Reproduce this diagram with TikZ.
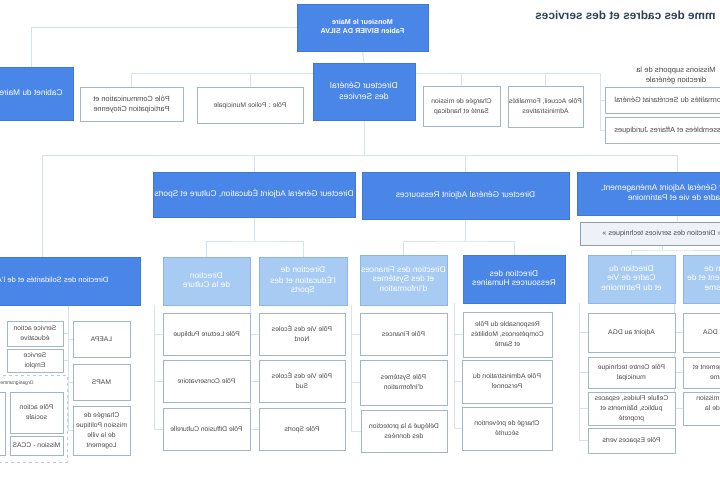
\documentclass[tikz,border=0pt]{standalone}
\usepackage{fontspec}
\setmainfont{Liberation Sans}
\usepackage{graphicx}
\usetikzlibrary{backgrounds,calc}
\definecolor{cblue}{HTML}{4A86E8}
\definecolor{cbluel}{HTML}{3E78D8}
\definecolor{clight}{HTML}{A7CBF3}
\definecolor{clightd}{HTML}{8DB6E6}
\definecolor{cwline}{HTML}{A2B6CA}
\definecolor{cconn}{HTML}{D6E2ED}
\definecolor{ctext}{HTML}{4A4A4A}
\definecolor{ctitle}{HTML}{2F4258}
\definecolor{cgrey}{HTML}{EEF2F6}
\definecolor{cgreyd}{HTML}{8E9DAD}
\newcommand{\mt}[1]{\reflectbox{\begin{tabular}{@{}c@{}}#1\end{tabular}}}
\begin{document}
\begin{tikzpicture}[x=1pt,y=-1pt,
  wh/.style 2 args={minimum width=#1pt,minimum height=#2pt},
  base/.style={inner sep=0pt, font=\fontsize{6.8}{10}\selectfont},
  big/.style={font=\fontsize{8.3}{9.8}\selectfont},
  bluebox/.style={base, big, fill=cblue, draw=cbluel, line width=0.8pt, text=white},
  lightbox/.style={base, big, fill=clight, draw=clightd, line width=0.8pt, text=white},
  whitebox/.style={base, fill=white, draw=cwline, line width=1pt, text=ctext},
  greybox/.style={base, fill=cgrey, draw=cgreyd, line width=1pt, text=ctext},
  conn/.style={draw=cconn, line width=0.9pt}]
\path[use as bounding box] (0,0) rectangle (720,480);

% title
\node[inner sep=0pt, font=\bfseries\fontsize{11.8}{13}\selectfont, text=ctitle] (title) at (625.5,17) {\mt{mme des cadres et des services}};

% row 1
\node[bluebox, wh={131}{47}, font=\bfseries\fontsize{7.2}{9}\selectfont] (top) at (362.5,27.5) {\mt{Monsieur le Maire\\Fabien BIVIER DA SILVA}};

% row 2
\node[bluebox, wh={84}{53}] (cab) at (31,93.5) {\mt{Cabinet du Maire}};
\node[whitebox, wh={103}{34}, font=\fontsize{7.4}{10}\selectfont] (comm) at (131.5,104) {\mt{Pôle Communication et\\Participation Citoyenne}};
\node[whitebox, wh={106}{36}] (police) at (250,105) {\mt{Pôle : Police Municipale}};
\node[bluebox, wh={102}{57}, font=\fontsize{8.6}{11.5}\selectfont] (dgs) at (364,91.5) {\mt{Directeur Général\\des Services}};
\node[whitebox, wh={77}{40}] (sante) at (461.5,106) {\mt{Chargée de mission\\Santé et handicap}};
\node[whitebox, wh={75}{41}] (accueil) at (545.5,106.5) {\mt{Pôle Accueil, Formalités\\Administratives}};
\node[base, text=ctext, font=\fontsize{7.6}{10}\selectfont] (miss) at (676,75) {\mt{Missions supports de la\\direction générale}};
\node[whitebox, wh={130}{26}, font=\fontsize{7.4}{10}\selectfont] (sg) at (670,100) {\mt{Formalités du Secrétariat Général}};
\node[whitebox, wh={130}{26}, font=\fontsize{7.4}{10}\selectfont] (jur) at (670,130) {\mt{Assemblées et Affaires Juridiques}};

% row 3
\node[bluebox, wh={202}{45}] (dga1) at (254,194.5) {\mt{Directeur Général Adjoint Éducation, Culture et Sports}};
\node[bluebox, wh={207}{47}] (dga2) at (465.5,195.5) {\mt{Directeur Général Adjoint Ressources}};
\node[bluebox, wh={200}{43}] (dga3) at (677,193.5) {\mt{Directeur Général Adjoint Aménagement,\\Cadre de vie et Patrimoine}};
\node[greybox, wh={164}{23}, font=\fontsize{7.2}{10}\selectfont] (st) at (662,233.5) {\mt{« Direction des services techniques »}};

% Solidarites
\node[bluebox, wh={206}{48}, font=\fontsize{7.6}{9.8}\selectfont] (sol) at (37,281) {\mt{Direction des Solidarités et de l'Autonomie}};
\node[whitebox, wh={56}{25}] (sae) at (35,333.5) {\mt{Service action\\éducative}};
\node[whitebox, wh={56}{23}] (semp) at (35,360.5) {\mt{Service\\Emploi}};
\node[whitebox, wh={57}{36}] (laep) at (101.5,339) {\mt{LAEPA}};
\node[whitebox, wh={57}{36}] (maps) at (101.5,382) {\mt{MAPS}};
\node[whitebox, wh={57}{49}] (cpv) at (101.5,430.5) {\mt{Chargée de\\mission Politique\\de la ville\\Logement}};
\node[draw=cwline!70, dashed, line width=0.8pt, wh={80}{87}, inner sep=0pt] (grp) at (27,418.5) {};
\node[base, text=ctext, font=\fontsize{5}{6}\selectfont] (grpl) at (17,383) {\mt{Organigramme}};
\node[whitebox, wh={53}{41}] (pas) at (36.5,412.5) {\mt{Pôle action\\sociale}};
\node[whitebox, wh={53}{19}] (ccas) at (36.5,445.5) {\mt{Mission - CCAS}};
\node[whitebox, wh={16}{63}] (part) at (-3,423.5) {};

% Culture
\node[lightbox, wh={87}{48}] (cult) at (206.5,281) {\mt{Direction\\de la Culture}};
\node[whitebox, wh={87}{42}] (lec) at (206.5,334) {\mt{Pôle Lecture Publique}};
\node[whitebox, wh={87}{42}] (cons) at (206.5,381) {\mt{Pôle Conservatoire}};
\node[whitebox, wh={87}{42}] (diff) at (206.5,429) {\mt{Pôle Diffusion Culturelle}};
% Education
\node[lightbox, wh={88}{48}] (edu) at (303,281) {\mt{Direction de\\l'Éducation et des\\Sports}};
\node[whitebox, wh={86}{42}] (nord) at (302,334) {\mt{Pôle Vie des Écoles\\Nord}};
\node[whitebox, wh={86}{42}] (sud) at (302,381) {\mt{Pôle Vie des Écoles\\Sud}};
\node[whitebox, wh={86}{42}] (sports) at (302,429) {\mt{Pôle Sports}};
% Finances
\node[lightbox, wh={87}{50}] (fin) at (403.5,280) {\mt{Direction des Finances\\et des Systèmes\\d'Information}};
\node[whitebox, wh={87}{42}] (pfin) at (403.5,334) {\mt{Pôle Finances}};
\node[whitebox, wh={87}{45}] (psi) at (403.5,382.5) {\mt{Pôle Systèmes\\d'Information}};
\node[whitebox, wh={86}{42}] (dpo) at (404,431) {\mt{Délégué à la protection\\des données}};
% RH
\node[bluebox, wh={102}{48}] (rh) at (514,279) {\mt{Direction des\\Ressources Humaines}};
\node[whitebox, wh={89}{45}] (comp) at (507.5,334.5) {\mt{Responsable du Pôle\\Compétences, Mobilités\\et Santé}};
\node[whitebox, wh={90}{43}] (adm) at (507,381.5) {\mt{Pôle Administration du\\Personnel}};
\node[whitebox, wh={90}{43}] (prev) at (507,428.5) {\mt{Chargé de prévention\\sécurité}};
% Cadre de vie
\node[lightbox, wh={87}{48}] (cdv) at (631.5,279) {\mt{Direction du\\Cadre de Vie\\et du Patrimoine}};
\node[whitebox, wh={87}{39}] (adj) at (631.5,332.5) {\mt{Adjoint au DGA}};
\node[whitebox, wh={87}{31}] (ctm) at (631.5,372.5) {\mt{Pôle Centre technique\\municipal}};
\node[whitebox, wh={87}{33}] (cell) at (631.5,408.5) {\mt{Cellule Fluides, espaces\\publics, bâtiments et\\propreté}};
\node[whitebox, wh={87}{25}] (esp) at (631.5,440.5) {\mt{Pôle Espaces verts}};
% Urbanisme
\node[lightbox, wh={87}{48}] (urb) at (726.5,279) {\mt{Direction de\\l'Aménagement et de\\l'Urbanisme}};
\node[whitebox, wh={87}{39}] (adj2) at (726.5,332.5) {\mt{Adjoint au DGA}};
\node[whitebox, wh={87}{31}] (amg) at (726.5,372.5) {\mt{Pôle Aménagement et\\Urbanisme}};
\node[whitebox, wh={87}{33}] (pv) at (726.5,408.5) {\mt{Chargée de mission\\Politique de la\\ville}};

\begin{scope}[on background layer]
\fill[white] (0,0) rectangle (720,480);
\coordinate (r2) at (600,73);
\coordinate (r3) at (364,155);
\coordinate (y241) at (0,241);
\coordinate (y250) at (0,250);
\coordinate (sv) at (68,305);
\coordinate (x42) at (42,0);
\draw[conn] (top.west) -| (cab.north);
\draw[conn] (top.south) -- (dgs.north);
\draw[conn] (comm.north) |- (r2);
\draw[conn] (police.north) -- (police.north |- r2);
\draw[conn] (sante.north) -- (sante.north |- r2);
\draw[conn] (accueil.north) -- (accueil.north |- r2);
\draw[conn] (r2) |- (jur.west);
\draw[conn] (r2 |- sg.west) -- (sg.west);
\draw[conn] (dgs.south) -- (r3);
\draw[conn] (sol.north -| x42) |- (dga3.north |- r3) -- (dga3.north);
\draw[conn] (dga1.north) -- (dga1.north |- r3);
\draw[conn] (dga2.north) -- (dga2.north |- r3);
% dga -> directions
\draw[conn] (dga1.south) -- (dga1.south |- y241);
\draw[conn] (cult.north) |- (dga1.south |- y241) -| (edu.north);
\draw[conn] (dga2.south) -- (dga2.south |- y241);
\draw[conn] (fin.north) |- (dga2.south |- y241) -| (rh.north);
\draw[conn] (dga3.south) -- (dga3.south |- st.north);
\draw[conn] (cdv.north) |- (st.south |- y250) -| (urb.north);
\draw[conn] (st.south) -- (st.south |- y250);
% pole verticals
\foreach \d/\p in {cult/lec,cult/cons,cult/diff,edu/nord,edu/sud,edu/sports,fin/pfin,fin/psi,fin/dpo,cdv/adj,cdv/ctm,cdv/cell,cdv/esp,urb/adj2,urb/amg,urb/pv}
  \draw[conn] ([xshift=-8pt]\d.south west) |- (\p.west);
\foreach \p in {comp,adm,prev}
  \draw[conn] ([xshift=-8pt]rh.south west) |- (\p.west);
\draw[conn] (sol.south -| sv) |- (cpv.west);
\draw[conn] (sv |- laep.west) -- (laep.west);
\draw[conn] (sv |- maps.west) -- (maps.west);
\draw[conn] (sv |- sae.east) -- (sae.east);
\draw[conn] (sv |- semp.east) -- (semp.east);
\draw[conn] (sv |- grp.east) -- (grp.east);
\end{scope}
\end{tikzpicture}
\end{document}
